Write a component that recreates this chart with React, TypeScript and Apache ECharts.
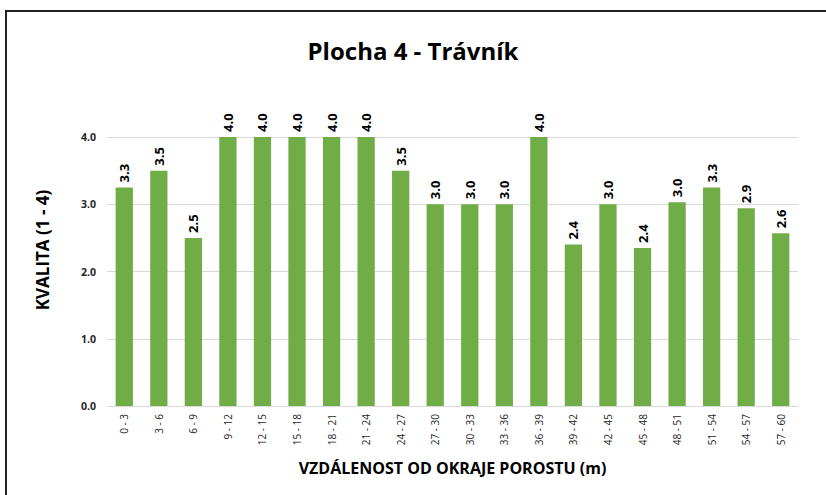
import React, { useEffect, useRef } from "react";
import * as echarts from "echarts";

const categories = ["0 - 3", "3 - 6", "6 - 9", "9 - 12", "12 - 15", "15 - 18", "18 - 21", "21 - 24", "24 - 27", "27 - 30", "30 - 33", "33 - 36", "36 - 39", "39 - 42", "42 - 45", "45 - 48", "48 - 51", "51 - 54", "54 - 57", "57 - 60"];
const values = [3.25, 3.5, 2.5, 4.0, 4.0, 4.0, 4.0, 4.0, 3.5, 3.0, 3.0, 3.0, 4.0, 2.4, 3.0, 2.35, 3.03, 3.25, 2.94, 2.57];
const titleText = "Plocha 4 - Trávník";
const yName = "KVALITA (1 - 4)";
const xName = "VZDÁLENOST OD OKRAJE POROSTU (m)";

const FONT = "'Open Sans', 'DejaVu Sans', sans-serif";

export default function App() {
  const ref = useRef<HTMLDivElement>(null);
  useEffect(() => {
    if (!ref.current) return;
    const chart = echarts.init(ref.current, null, { renderer: "svg" });
    chart.setOption({
      animation: false,
      backgroundColor: "#ffffff",
      title: {
        text: titleText,
        left: "center",
        top: 33,
        textStyle: { fontFamily: FONT, fontSize: 24, fontWeight: "bold", color: "#000000" },
      },
      graphic: [
        {
          type: "rect",
          shape: { x: 6, y: 11, width: 900, height: 600 },
          style: { fill: "none", stroke: "#222222", lineWidth: 2 },
          silent: true,
        },
        {
          type: "text",
          x: 42,
          y: 250,
          rotation: Math.PI / 2,
          style: {
            text: yName,
            fontFamily: FONT,
            fontSize: 17,
            fontWeight: "bold",
            fill: "#000000",
            align: "center",
            verticalAlign: "middle",
          },
          silent: true,
        },
      ],
      grid: { left: 107, right: 28, top: 137, bottom: 89 },
      xAxis: {
        type: "category",
        data: categories,
        name: xName,
        nameLocation: "middle",
        nameGap: 54,
        nameTextStyle: { fontFamily: FONT, fontSize: 16, fontWeight: "bold", color: "#000000" },
        axisLine: { lineStyle: { color: "#d9d9d9", width: 1 } },
        axisTick: { show: false },
        axisLabel: { rotate: 90, interval: 0, fontFamily: FONT, fontSize: 10, color: "#262626", margin: 8 },
      },
      yAxis: {
        type: "value",
        min: 0,
        max: 4,
        interval: 1,
        axisLine: { show: false },
        axisTick: { show: false },
        splitLine: { lineStyle: { color: "#d9d9d9", width: 1 } },
        axisLabel: {
          fontFamily: FONT,
          fontSize: 10.5,
          fontWeight: "bold",
          color: "#262626",
          margin: 11,
          formatter: (v: number) => v.toFixed(1),
        },
      },
      series: [
        {
          type: "bar",
          data: values,
          barWidth: "50%",
          itemStyle: { color: "#70ad47" },
          label: {
            show: true,
            position: "top",
            rotate: 90,
            align: "left",
            verticalAlign: "middle",
            distance: 5,
            fontFamily: FONT,
            fontSize: 13,
            fontWeight: "bold",
            color: "#000000",
            formatter: (p: any) => Number(p.value).toFixed(1),
          },
        },
      ],
    });
    return () => chart.dispose();
  }, []);
  return (
    <div
      ref={ref}
      style={{ position: "fixed", left: 0, top: 0, width: 826, height: 495 }}
    />
  );
}
